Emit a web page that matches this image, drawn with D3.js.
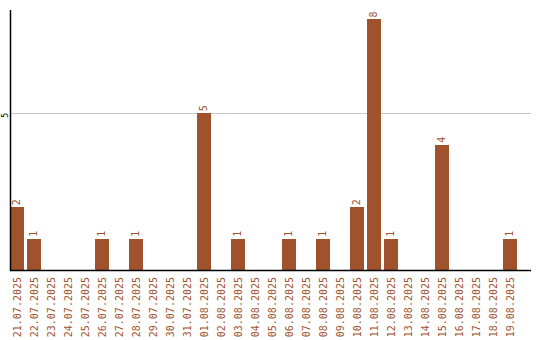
<!DOCTYPE html>
<html>
<head>
<meta charset="utf-8">
<script src="https://cdn.jsdelivr.net/npm/d3@7"></script>
<style>
  body { margin: 0; background: #fff; }
  text { font-family: "DejaVu Sans Mono", monospace; font-size: 10px; }
</style>
</head>
<body>
<svg></svg>
<script>
var width = 540;
var height = 340;

var dates = ['21.07.2025', '22.07.2025', '23.07.2025', '24.07.2025', '25.07.2025',
  '26.07.2025', '27.07.2025', '28.07.2025', '29.07.2025', '30.07.2025',
  '31.07.2025', '01.08.2025', '02.08.2025', '03.08.2025', '04.08.2025',
  '05.08.2025', '06.08.2025', '07.08.2025', '08.08.2025', '09.08.2025',
  '10.08.2025', '11.08.2025', '12.08.2025', '13.08.2025', '14.08.2025',
  '15.08.2025', '16.08.2025', '17.08.2025', '18.08.2025', '19.08.2025'];
var counts = [2, 1, 0, 0, 0, 1, 0, 1, 0, 0,
  0, 5, 0, 1, 0, 0, 1, 0, 1, 0,
  2, 8, 1, 0, 0, 4, 0, 0, 0, 1];
var yTicks = [5];

var barColor = '#a0522d';
var plotLeft = 10, plotTop = 10, plotBottom = 270, plotRight = 531;

var svg = d3.select('svg')
  .attr('width', width)
  .attr('height', height);

var xScale = d3.scaleBand()
  .domain(dates)
  .range([plotLeft, 516.6])
  .paddingInner(0.2)
  .paddingOuter(0);

var yScale = d3.scaleLinear()
  .domain([0, 8.3])
  .range([plotBottom, plotTop]);

var data = dates.map((d, i) => ({date: d, value: counts[i]}));

// grid lines
svg.append('g')
  .selectAll('line')
  .data(yTicks)
  .enter()
  .append('line')
    .attr('x1', plotLeft)
    .attr('x2', plotRight)
    .attr('y1', d => Math.round(yScale(d)) + 0.5)
    .attr('y2', d => Math.round(yScale(d)) + 0.5)
    .attr('stroke', '#c8c8c8')
    .attr('stroke-width', 1);

// y tick labels
svg.append('g')
  .selectAll('text')
  .data(yTicks)
  .enter()
  .append('text')
    .attr('transform', d => 'translate(7.5,' + (yScale(d) + 2) + ') rotate(-90)')
    .attr('text-anchor', 'middle')
    .attr('fill', '#000')
    .style('font-size', '8px')
    .text(d => d);

// bars
svg.append('g')
  .selectAll('rect')
  .data(data.filter(d => d.value > 0))
  .enter()
  .append('rect')
    .attr('x', d => xScale(d.date))
    .attr('y', d => yScale(d.value))
    .attr('width', xScale.bandwidth())
    .attr('height', d => plotBottom - yScale(d.value))
    .attr('fill', barColor)
    .attr('shape-rendering', 'crispEdges');

// value labels
svg.append('g')
  .selectAll('text')
  .data(data.filter(d => d.value > 0))
  .enter()
  .append('text')
    .attr('transform', d => 'translate(' + (xScale(d.date) + xScale.bandwidth() / 2 + 3.5) + ',' + (yScale(d.value) - 2) + ') rotate(-90)')
    .attr('text-anchor', 'start')
    .attr('fill', barColor)
    .text(d => d.value);

// x labels
svg.append('g')
  .selectAll('text')
  .data(dates)
  .enter()
  .append('text')
    .attr('transform', d => 'translate(' + (xScale(d) + xScale.bandwidth() / 2 + 4) + ',' + 277 + ') rotate(-90)')
    .attr('text-anchor', 'end')
    .attr('fill', barColor)
    .text(d => d);

// axis lines
svg.append('line')
  .attr('x1', plotLeft + 0.5).attr('x2', plotLeft + 0.5)
  .attr('y1', plotTop).attr('y2', plotBottom + 1)
  .attr('stroke', '#000').attr('stroke-width', 1.5);

svg.append('line')
  .attr('x1', plotLeft).attr('x2', plotRight)
  .attr('y1', plotBottom + 0.5).attr('y2', plotBottom + 0.5)
  .attr('stroke', '#000').attr('stroke-width', 1.5);
</script>
</body>
</html>
